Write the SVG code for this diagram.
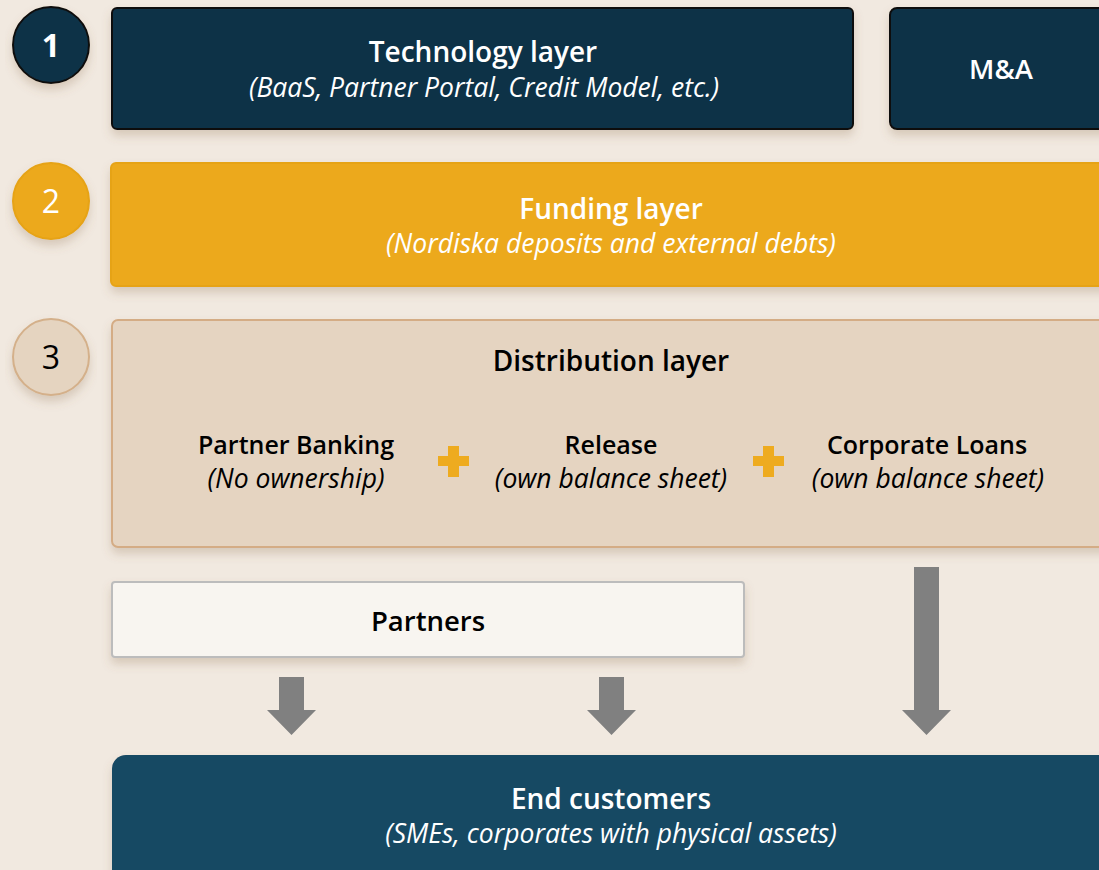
<svg xmlns="http://www.w3.org/2000/svg" width="1099" height="870" viewBox="0 0 1099 870">
<style>
.t{font-family:"Open Sans","Noto Sans",sans-serif;font-weight:600;font-size:28px;text-anchor:middle}
.s{font-family:"Open Sans","Noto Sans",sans-serif;font-style:italic;font-size:26.5px;text-anchor:middle}
.m{font-family:"Open Sans","Noto Sans",sans-serif;font-weight:600;font-size:25px;text-anchor:middle}
.p{font-size:27.5px}
.n{font-family:"Open Sans","Noto Sans",sans-serif;font-size:32px;text-anchor:middle}
.w{fill:#fff}.k{fill:#000}
.arr{fill:#808080}
</style>
<defs>
<filter id="sh" x="-10%" y="-20%" width="120%" height="160%">
<feDropShadow dx="0" dy="6" stdDeviation="5" flood-color="#8a6a4a" flood-opacity="0.25"/>
</filter>
</defs>
<rect width="1099" height="870" fill="#f1e9e0"/>
<g id="n1">
<circle cx="51" cy="45" r="38" fill="#0e3147" stroke="#111" stroke-width="2" filter="url(#sh)"/>
<text class="n w" x="51" y="57" font-weight="700">1</text>
</g>
<g id="tech">
<rect x="112" y="8" width="741" height="121" rx="5" fill="#0e3147" stroke="#111" stroke-width="2" filter="url(#sh)"/>
<text class="t w" x="483" y="62">Technology layer</text>
<text class="s w" x="484" y="97">(BaaS, Partner Portal, Credit Model, etc.)</text>
</g>
<g id="ma">
<rect x="890" y="8" width="230" height="121" rx="7" fill="#0e3147" stroke="#111" stroke-width="2" filter="url(#sh)"/>
<text class="m p w" x="1001" y="79">M&amp;A</text>
</g>
<g id="n2">
<circle cx="51" cy="201" r="38" fill="#eca91b" stroke="#e6a318" stroke-width="2" filter="url(#sh)"/>
<text class="n w" x="51" y="213">2</text>
</g>
<g id="funding">
<rect x="111" y="163" width="1010" height="123" rx="5" fill="#eca91b" stroke="#e6a318" stroke-width="2" filter="url(#sh)"/>
<text class="t w" x="611" y="219">Funding layer</text>
<text class="s w" x="611" y="253">(Nordiska deposits and external debts)</text>
</g>
<g id="n3">
<circle cx="51" cy="357" r="38" fill="#e5d4c0" stroke="#d4b08a" stroke-width="2" filter="url(#sh)"/>
<text class="n k" x="51" y="369">3</text>
</g>
<g id="distribution">
<rect x="112" y="320" width="1010" height="227" rx="6" fill="#e5d4c1" stroke="#d4ac85" stroke-width="2" filter="url(#sh)"/>
<text class="t k" x="611" y="371">Distribution layer</text>
<text class="m k" x="296" y="454">Partner Banking</text>
<text class="s k" x="296" y="488">(No ownership)</text>
<text class="m k" x="611" y="454">Release</text>
<text class="s k" x="611" y="488">(own balance sheet)</text>
<text class="m k" x="927" y="454">Corporate Loans</text>
<text class="s k" x="928" y="488">(own balance sheet)</text>
<path d="M448 446h11v10h10v10h-10v11h-11v-11h-10v-10h10z" fill="#eeab1f"/>
<path d="M763 446h11v10h10v10h-10v11h-11v-11h-10v-10h10z" fill="#eeab1f"/>
</g>
<g id="partners">
<rect x="112" y="582" width="632" height="75" rx="3" fill="#f8f5f0" stroke="#bcbcbc" stroke-width="2" filter="url(#sh)"/>
<text class="m p k" x="428" y="631">Partners</text>
</g>
<g id="connectors">
<path class="arr" d="M279 677h25v33h12l-24.5 25l-24.5-25h12z"/>
<path class="arr" d="M599 677h25v33h12l-24.5 25l-24.5-25h12z"/>
<path class="arr" d="M914 567h25v143h12l-24.5 25l-24.5-25h12z"/>
</g>
<g id="customers">
<rect x="112" y="755" width="1010" height="140" rx="14" fill="#164863" filter="url(#sh)"/>
<text class="t w" x="611" y="809">End customers</text>
<text class="s w" x="611" y="843">(SMEs, corporates with physical assets)</text>
</g>
</svg>
